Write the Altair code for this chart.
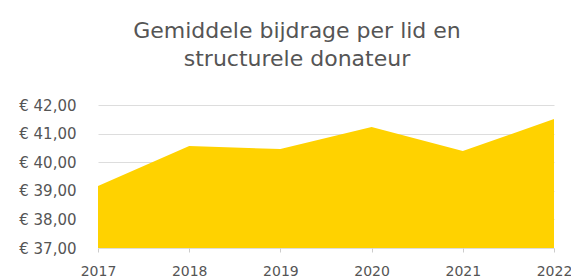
import altair as alt
import pandas as pd

years = [2017, 2018, 2019, 2020, 2021, 2022]
values = [39.17, 40.57, 40.46, 41.23, 40.39, 41.51]
y_ticks = [37, 38, 39, 40, 41, 42]

df = pd.DataFrame({"year": years, "value": values})

chart = alt.Chart(df).mark_area(color="#FFD200", opacity=1, clip=True).encode(
    x=alt.X("year:Q",
            scale=alt.Scale(domain=[2017, 2022], nice=False, zero=False),
            axis=alt.Axis(values=years, format="d", title=None, grid=False,
                          domain=False, ticks=True, tickSize=4, tickColor="#cccccc",
                          labelPadding=12, labelFontSize=14, labelColor="#555555",
                          labelFont="DejaVu Sans", labelFlush=False)),
    y=alt.Y("value:Q",
            scale=alt.Scale(domain=[37, 42], nice=False, zero=False),
            axis=alt.Axis(values=y_ticks, title=None, grid=True, gridColor="#dddddd",
                          domain=False, ticks=False, labelPadding=22,
                          labelFontSize=15, labelColor="#555555", labelFont="DejaVu Sans",
                          labelExpr="'€ ' + replace(format(datum.value, '.2f'), '.', ',')")),
).properties(
    width=456,
    height=143,
    autosize=alt.AutoSizeParams(type="none"),
    padding={"left": 90, "top": 97, "right": 17, "bottom": 31},
    title=alt.TitleParams(
        text=["Gemiddele bijdrage per lid en", "structurele donateur"],
        fontSize=22, font="DejaVu Sans", fontWeight="normal", color="#555555",
        anchor="middle", dx=-29, offset=27, lineHeight=28,
    ),
).configure_view(stroke=None)

chart.save("out.html", embed_options={"renderer": "svg", "actions": False})
